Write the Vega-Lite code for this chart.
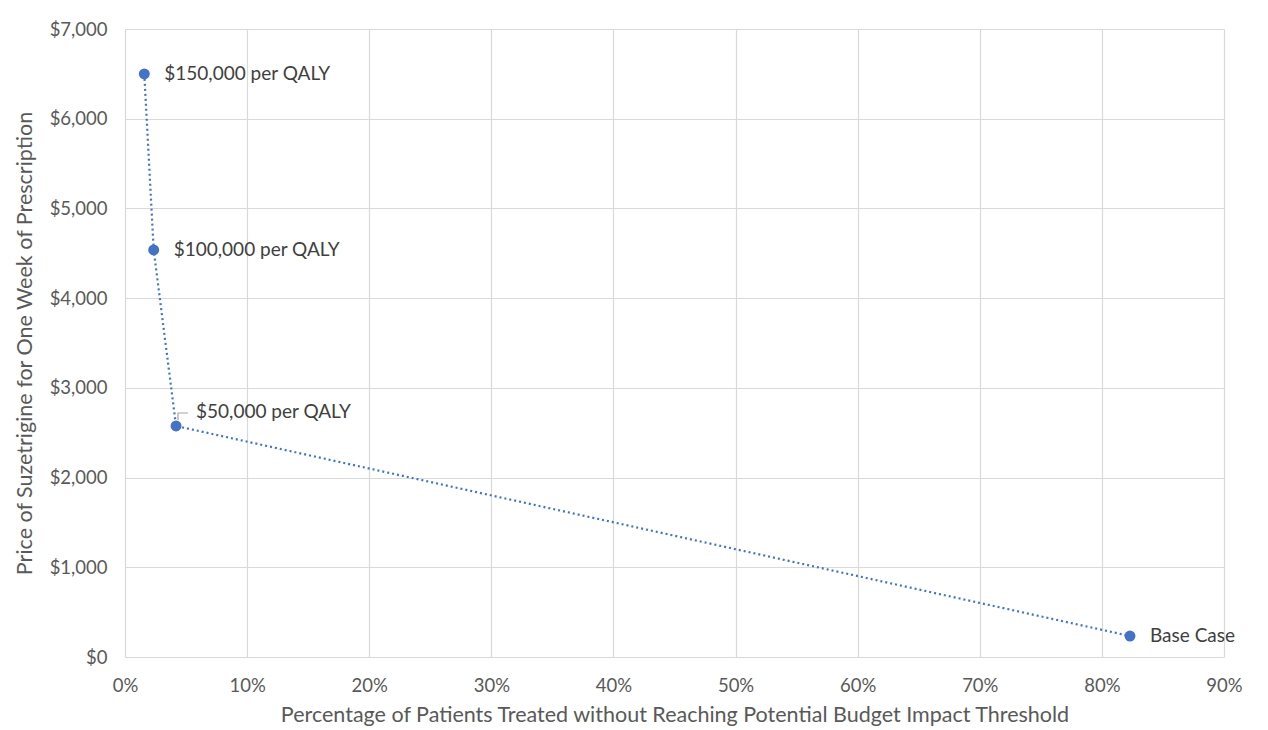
{
  "$schema": "https://vega.github.io/schema/vega-lite/v6.json",
  "width": 1099,
  "height": 628,
  "autosize": {"type": "none"},
  "padding": {"left": 125, "top": 29, "right": 44, "bottom": 73},
  "background": "white",
  "config": {
    "view": {"stroke": null},
    "font": "Lato",
    "axis": {
      "gridColor": "#d9d9d9",
      "gridWidth": 1.2,
      "domain": false,
      "ticks": false,
      "labelFlush": false,
      "labelColor": "#595959",
      "labelFontSize": 18.5,
      "labelFont": "Lato",
      "titleColor": "#595959",
      "titleFontSize": 21.5,
      "titleFont": "Lato",
      "titleFontWeight": "normal"
    }
  },
  "datasets": {
    "pts": [
      {"pct": 0.0158, "price": 6500, "label": "$150,000 per QALY"},
      {"pct": 0.0235, "price": 4537, "label": "$100,000 per QALY"},
      {"pct": 0.0418, "price": 2575, "label": "$50,000 per QALY"},
      {"pct": 0.823, "price": 234, "label": "Base Case"}
    ],
    "leader": [
      {"pct": 0.0434, "price": 2640, "o": 1},
      {"pct": 0.0434, "price": 2720, "o": 2},
      {"pct": 0.0515, "price": 2720, "o": 3}
    ]
  },
  "layer": [
    {
      "data": {"name": "pts"},
      "mark": {"type": "line", "color": "#4472C4", "strokeWidth": 2.2, "strokeDash": [2, 3]},
      "encoding": {
        "x": {
          "field": "pct", "type": "quantitative",
          "scale": {"domain": [0, 0.9], "nice": false},
          "axis": {"format": ".0%", "values": [0, 0.1, 0.2, 0.3, 0.4, 0.5, 0.6, 0.7, 0.8, 0.9], "labelPadding": 19, "titlePadding": 10,
                   "title": "Percentage of Patients Treated without Reaching Potential Budget Impact Threshold"}
        },
        "y": {
          "field": "price", "type": "quantitative",
          "scale": {"domain": [0, 7000], "nice": false},
          "axis": {"format": "$,.0f", "values": [0, 1000, 2000, 3000, 4000, 5000, 6000, 7000], "labelPadding": 18, "titlePadding": 13,
                   "title": "Price of Suzetrigine for One Week of Prescription"}
        }
      }
    },
    {
      "data": {"name": "leader"},
      "mark": {"type": "line", "color": "#a6a6a6", "strokeWidth": 1.2},
      "encoding": {
        "x": {"field": "pct", "type": "quantitative"},
        "y": {"field": "price", "type": "quantitative"},
        "order": {"field": "o"}
      }
    },
    {
      "data": {"name": "pts"},
      "mark": {"type": "circle", "color": "#4472C4", "opacity": 1, "size": 120},
      "encoding": {
        "x": {"field": "pct", "type": "quantitative"},
        "y": {"field": "price", "type": "quantitative"}
      }
    },
    {
      "data": {"name": "pts"},
      "transform": [{"filter": "datum.label != '$50,000 per QALY'"}],
      "mark": {"type": "text", "align": "left", "dx": 20, "fontSize": 19, "color": "#404040", "font": "Lato"},
      "encoding": {
        "x": {"field": "pct", "type": "quantitative"},
        "y": {"field": "price", "type": "quantitative"},
        "text": {"field": "label"}
      }
    },
    {
      "data": {"name": "pts"},
      "transform": [{"filter": "datum.label == '$50,000 per QALY'"}],
      "mark": {"type": "text", "align": "left", "dx": 20, "dy": -14, "fontSize": 19, "color": "#404040", "font": "Lato"},
      "encoding": {
        "x": {"field": "pct", "type": "quantitative"},
        "y": {"field": "price", "type": "quantitative"},
        "text": {"field": "label"}
      }
    }
  ]
}
